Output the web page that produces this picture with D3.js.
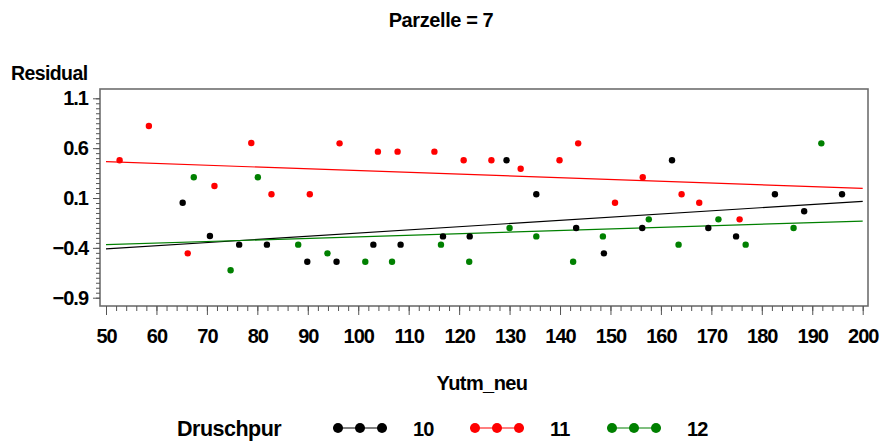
<!DOCTYPE html>
<html>
<head>
<meta charset="utf-8">
<script src="https://cdn.jsdelivr.net/npm/d3@7"></script>
<style>
  html, body { margin: 0; padding: 0; background: #fff; }
  svg text { font-family: "Liberation Sans", Arial, Helvetica, sans-serif; fill: #000; }
</style>
</head>
<body>
<svg id="chart" width="884" height="444"></svg>
<script>
// Residuals by Yutm_neu for plot (Parzelle) 7, one series per Druschpur
const seriesNames = ["10", "11", "12"];
const seriesColors = ["#000000", "#ff0000", "#008000"];

const x10 = [65.2, 70.6, 76.4, 81.9, 89.9, 95.7, 103.0, 108.4, 116.8, 122.1, 129.4, 135.3, 143.2, 148.7, 156.3, 162.2, 169.4, 174.9, 182.6, 188.4, 195.9];
const y10 = [0.053, -0.281, -0.368, -0.368, -0.539, -0.539, -0.368, -0.368, -0.285, -0.285, 0.478, 0.137, -0.201, -0.455, -0.201, 0.478, -0.201, -0.285, 0.137, -0.033, 0.137];

const x11 = [52.7, 58.5, 66.2, 71.5, 78.8, 82.8, 90.4, 96.3, 103.9, 107.8, 115.1, 120.9, 126.4, 132.2, 139.9, 143.6, 150.9, 156.4, 164.1, 167.6, 175.6];
const y11 = [0.478, 0.822, -0.455, 0.220, 0.652, 0.137, 0.137, 0.648, 0.565, 0.565, 0.565, 0.478, 0.478, 0.394, 0.478, 0.648, 0.053, 0.308, 0.137, 0.053, -0.114];

const x12 = [67.4, 74.7, 80.1, 88.1, 93.9, 101.4, 106.7, 116.4, 122.0, 130.0, 135.3, 142.6, 148.5, 157.6, 163.5, 171.4, 176.8, 186.3, 191.8];
const y12 = [0.308, -0.625, 0.308, -0.368, -0.455, -0.539, -0.539, -0.368, -0.539, -0.201, -0.285, -0.539, -0.285, -0.114, -0.368, -0.114, -0.368, -0.201, 0.648];

// Fitted trend line per series, evaluated at both ends of the x range
const fitX = [50, 200];
const fit10 = [-0.411, 0.067];
const fit11 = [0.464, 0.197];
const fit12 = [-0.368, -0.131];

const xTicks = [50, 60, 70, 80, 90, 100, 110, 120, 130, 140, 150, 160, 170, 180, 190, 200];
const yTicks = [1.1, 0.6, 0.1, -0.4, -0.9];

const titleText = "Parzelle = 7";
const xTitle = "Yutm_neu";
const yTitle = "Residual";
const legendTitle = "Druschpur";

const seriesX = [x10, x11, x12];
const seriesY = [y10, y11, y12];
const seriesFit = [fit10, fit11, fit12];

const svg = d3.select("#chart");

// Frame of the plot area
const frame = { left: 100, right: 868, top: 89, bottom: 306 };

const x = d3.scaleLinear().domain([50, 200]).range([106, 862.7]);
const y = d3.scaleLinear().domain([-0.9, 1.1]).range([297.7, 98.3]);

// Title
svg.append("text")
  .attr("x", 441).attr("y", 27)
  .attr("text-anchor", "middle")
  .style("font-size", "20px").style("font-weight", "bold")
  .style("letter-spacing", "-0.4px")
  .text(titleText);

// Y axis title above the axis
svg.append("text")
  .attr("x", 11).attr("y", 80)
  .style("font-size", "19.5px").style("font-weight", "bold")
  .style("letter-spacing", "-0.6px")
  .text(yTitle);

// Plot frame
svg.append("rect")
  .attr("x", frame.left).attr("y", frame.top)
  .attr("width", frame.right - frame.left)
  .attr("height", frame.bottom - frame.top)
  .attr("fill", "none")
  .attr("stroke", "#6e6e6e")
  .attr("stroke-width", 1.6);

// Y axis: major ticks with labels and minor ticks every 0.05
const yMinor = d3.range(-0.9, 1.1001, 0.05).map(v => +v.toFixed(2));
svg.append("g")
  .attr("transform", `translate(${frame.left},0)`)
  .call(d3.axisLeft(y).tickValues(yMinor).tickSize(4).tickFormat(""))
  .call(g => g.select(".domain").remove())
  .call(g => g.selectAll("line").attr("stroke", "#555"));

const yMajorAxis = d3.axisLeft(y)
  .tickValues(yTicks)
  .tickSize(7)
  .tickPadding(5)
  .tickFormat(d => d < 0 ? "\u2212" + Math.abs(d).toFixed(1) : d.toFixed(1));
svg.append("g")
  .attr("transform", `translate(${frame.left},0)`)
  .call(yMajorAxis)
  .call(g => g.select(".domain").remove())
  .call(g => g.selectAll("line").attr("stroke", "#555"))
  .call(g => g.selectAll("text")
    .style("font-size", "20px").style("font-weight", "bold")
    .style("letter-spacing", "-1px")
    .attr("fill", "#000"));

// X axis: minor ticks every 2, labelled majors every 10
const xMinor = d3.range(50, 200.01, 2);
svg.append("g")
  .attr("transform", `translate(0,${frame.bottom})`)
  .call(d3.axisBottom(x).tickValues(xMinor).tickSize(5).tickFormat(""))
  .call(g => g.select(".domain").remove())
  .call(g => g.selectAll("line").attr("stroke", "#555"));

svg.append("g")
  .attr("transform", `translate(0,${frame.bottom})`)
  .call(d3.axisBottom(x).tickValues(xTicks).tickSize(9).tickPadding(14).tickFormat(d3.format("d")))
  .call(g => g.select(".domain").remove())
  .call(g => g.selectAll("line").attr("stroke", "#555"))
  .call(g => g.selectAll("text")
    .style("font-size", "20px").style("font-weight", "bold")
    .style("letter-spacing", "-1px")
    .attr("fill", "#000"));

// X axis title
svg.append("text")
  .attr("x", 482).attr("y", 390)
  .attr("text-anchor", "middle")
  .style("font-size", "20px").style("font-weight", "bold")
  .style("letter-spacing", "-0.6px")
  .text(xTitle);

// Trend lines
const plot = svg.append("g");
seriesFit.forEach((fit, i) => {
  plot.append("line")
    .attr("x1", x(fitX[0])).attr("y1", y(fit[0]))
    .attr("x2", x(fitX[1])).attr("y2", y(fit[1]))
    .attr("stroke", seriesColors[i])
    .attr("stroke-width", 1.2);
});

// Points
seriesX.forEach((xs, i) => {
  plot.selectAll(null)
    .data(xs.map((v, j) => [v, seriesY[i][j]]))
    .join("circle")
    .attr("cx", d => x(d[0]))
    .attr("cy", d => y(d[1]))
    .attr("r", 3.2)
    .attr("fill", seriesColors[i]);
});

// Legend
const legendY = 428;
svg.append("text")
  .attr("x", 177).attr("y", legendY + 8)
  .style("font-size", "21.5px").style("font-weight", "bold")
  .style("letter-spacing", "-0.5px")
  .text(legendTitle);

const legendStarts = [333, 470, 607];
seriesNames.forEach((name, i) => {
  const g = svg.append("g").attr("transform", `translate(${legendStarts[i]},${legendY})`);
  g.append("line").attr("x1", 0).attr("x2", 54).attr("y1", 0).attr("y2", 0)
    .attr("stroke", seriesColors[i]).attr("stroke-width", 1.2);
  [5, 27, 49].forEach(cx => {
    g.append("circle").attr("cx", cx).attr("cy", 0).attr("r", 5).attr("fill", seriesColors[i]);
  });
  g.append("text")
    .attr("x", 80).attr("y", 8)
    .style("font-size", "20px").style("font-weight", "bold")
    .style("letter-spacing", "-0.8px")
    .text(name);
});
</script>
</body>
</html>
